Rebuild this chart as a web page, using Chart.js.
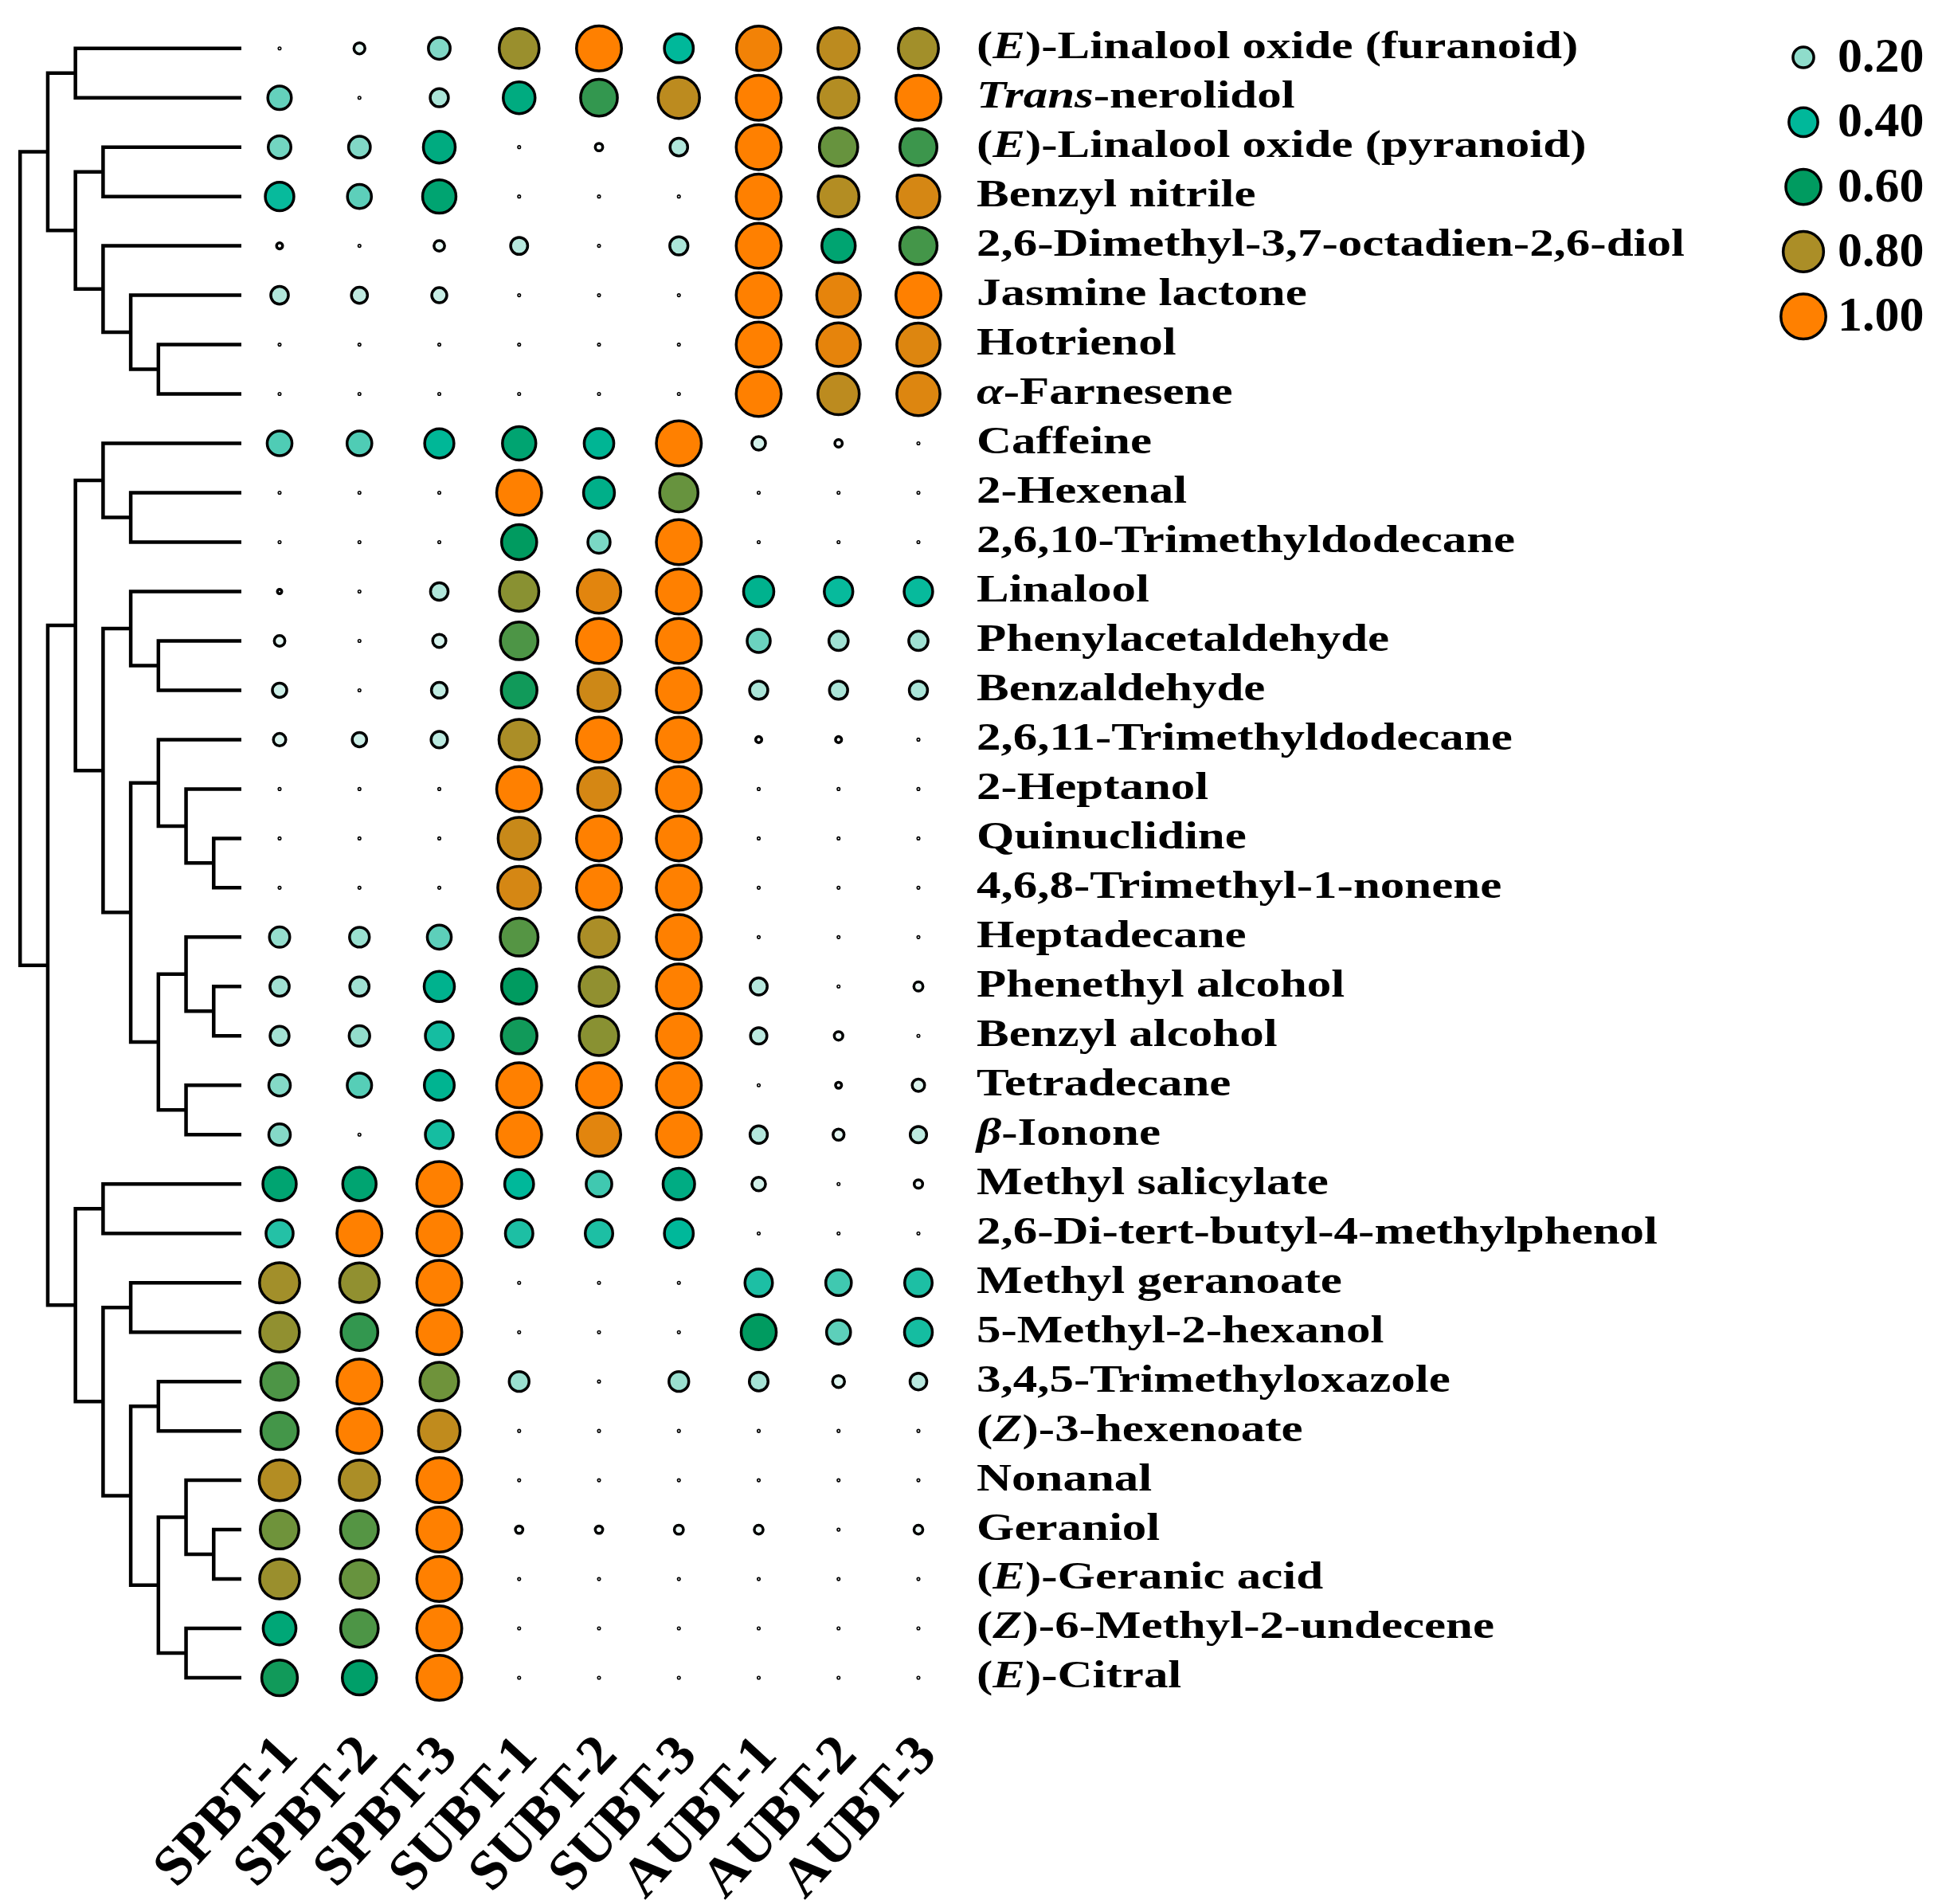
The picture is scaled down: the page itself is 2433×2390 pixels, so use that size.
<!DOCTYPE html>
<html>
<head>
<meta charset="utf-8">
<script src="https://cdn.jsdelivr.net/npm/chart.js@4.4.1/dist/chart.umd.min.js"></script>
<style>
    html, body { margin: 0; padding: 0; background: #ffffff; }
    canvas { display: block; }
</style>
</head>
<body>
<canvas id="bubbles" width="2433" height="2390"></canvas>
<script>
const samples = ["SPBT-1", "SPBT-2", "SPBT-3", "SUBT-1", "SUBT-2", "SUBT-3", "AUBT-1", "AUBT-2", "AUBT-3"];

// text between * is set in italic
const compounds = [
    "(*E*)-Linalool oxide (furanoid)",
    "*Trans*-nerolidol",
    "(*E*)-Linalool oxide (pyranoid)",
    "Benzyl nitrile",
    "2,6-Dimethyl-3,7-octadien-2,6-diol",
    "Jasmine lactone",
    "Hotrienol",
    "*α*-Farnesene",
    "Caffeine",
    "2-Hexenal",
    "2,6,10-Trimethyldodecane",
    "Linalool",
    "Phenylacetaldehyde",
    "Benzaldehyde",
    "2,6,11-Trimethyldodecane",
    "2-Heptanol",
    "Quinuclidine",
    "4,6,8-Trimethyl-1-nonene",
    "Heptadecane",
    "Phenethyl alcohol",
    "Benzyl alcohol",
    "Tetradecane",
    "*β*-Ionone",
    "Methyl salicylate",
    "2,6-Di-tert-butyl-4-methylphenol",
    "Methyl geranoate",
    "5-Methyl-2-hexanol",
    "3,4,5-Trimethyloxazole",
    "(*Z*)-3-hexenoate",
    "Nonanal",
    "Geraniol",
    "(*E*)-Geranic acid",
    "(*Z*)-6-Methyl-2-undecene",
    "(*E*)-Citral",
];

// relative content, one array per sample, same order as compounds
const spbt1 = [0, 0.26, 0.24, 0.39, 0.012, 0.14, 0, 0, 0.29, 0, 0, 0.005, 0.046, 0.09, 0.065, 0, 0, 0, 0.19, 0.17, 0.165, 0.215, 0.215, 0.54, 0.35, 0.79, 0.77, 0.69, 0.68, 0.82, 0.73, 0.78, 0.52, 0.62];
const spbt2 = [0.05, 0, 0.22, 0.27, 0, 0.115, 0, 0, 0.29, 0, 0, 0, 0, 0, 0.09, 0, 0, 0, 0.18, 0.17, 0.195, 0.28, 0, 0.54, 1.0, 0.77, 0.66, 1.0, 1.0, 0.8, 0.7, 0.72, 0.69, 0.57];
const spbt3 = [0.22, 0.15, 0.49, 0.54, 0.046, 0.1, 0, 0, 0.41, 0, 0, 0.14, 0.075, 0.11, 0.12, 0, 0, 0, 0.27, 0.44, 0.37, 0.43, 0.37, 1.0, 1.0, 1.0, 1.0, 0.73, 0.85, 1.0, 1.0, 1.0, 1.0, 1.0];
const subt1 = [0.78, 0.49, 0, 0, 0.13, 0, 0, 0, 0.54, 1.0, 0.6, 0.76, 0.69, 0.62, 0.8, 1.0, 0.87, 0.9, 0.7, 0.6, 0.62, 1.0, 1.0, 0.4, 0.36, 0, 0, 0.18, 0, 0, 0.02, 0, 0, 0];
const subt2 = [1.0, 0.66, 0.02, 0, 0, 0, 0, 0, 0.42, 0.46, 0.23, 0.93, 1.0, 0.88, 1.0, 0.9, 1.0, 1.0, 0.8, 0.77, 0.76, 1.0, 0.93, 0.31, 0.36, 0, 0, 0, 0, 0, 0.02, 0, 0, 0];
const subt3 = [0.4, 0.84, 0.14, 0, 0.15, 0, 0, 0, 1.0, 0.72, 1.0, 1.0, 1.0, 1.0, 1.0, 1.0, 1.0, 1.0, 1.0, 1.0, 1.0, 1.0, 1.0, 0.48, 0.4, 0, 0, 0.18, 0, 0, 0.032, 0, 0, 0];
const aubt1 = [0.97, 1.0, 1.0, 1.0, 1.0, 1.0, 1.0, 1.0, 0.08, 0, 0, 0.44, 0.25, 0.15, 0.012, 0, 0, 0, 0, 0.13, 0.12, 0, 0.135, 0.08, 0, 0.36, 0.6, 0.16, 0, 0, 0.03, 0, 0, 0];
const aubt2 = [0.84, 0.82, 0.72, 0.82, 0.54, 0.94, 0.94, 0.84, 0.02, 0, 0, 0.39, 0.17, 0.15, 0.012, 0, 0, 0, 0, 0, 0.028, 0.012, 0.05, 0, 0, 0.31, 0.27, 0.06, 0, 0, 0, 0, 0, 0];
const aubt3 = [0.79, 1.0, 0.67, 0.9, 0.68, 1.0, 0.92, 0.92, 0, 0, 0, 0.39, 0.17, 0.15, 0, 0, 0, 0, 0, 0.032, 0, 0.065, 0.12, 0.027, 0, 0.36, 0.37, 0.125, 0, 0, 0.03, 0, 0, 0];
const sampleValues = [spbt1, spbt2, spbt3, subt1, subt2, subt3, aubt1, aubt2, aubt3];

// row clustering, nested pairs of row indices
const rowTree = [
    [[0, 1], [[2, 3], [4, [5, [6, 7]]]]],
    [
        [[8, [9, 10]], [[11, [12, 13]], [[14, [15, [16, 17]]], [[18, [19, 20]], [21, 22]]]]],
        [[23, 24], [[25, 26], [[27, 28], [[29, [30, 31]], [32, 33]]]]],
    ],
];

const legendValues = [0.2, 0.4, 0.6, 0.8, 1.0];
const legendLabels = ["0.20", "0.40", "0.60", "0.80", "1.00"];

const colorStops = [
    [0, "#ffffff"],
    [0.2, "#8fdccb"],
    [0.4, "#00b89a"],
    [0.6, "#009b60"],
    [0.8, "#ab8e27"],
    [1, "#ff8000"],
];

// layout (pixels)
const W = 2433, H = 2390;
const xAxisHeight = 238;
const colPx0 = 351, colStep = 100.25;
const rowPx0 = 60.7, rowStep = 61.98;
const leafPx = 303, levelPx = 34.72, leafLevel = 8;
const serif = '"Liberation Serif", "Times New Roman", serif';

function hexToRgb(h) {
    return [1, 3, 5].map(i => parseInt(h.substr(i, 2), 16));
}

function colorFor(v) {
    for (let i = 1; i < colorStops.length; i++) {
        if (v <= colorStops[i][0]) {
            const [v0, c0] = colorStops[i - 1];
            const [v1, c1] = colorStops[i];
            const t = (v - v0) / (v1 - v0);
            const a = hexToRgb(c0), b = hexToRgb(c1);
            const c = a.map((x, k) => Math.round(x + (b[k] - x) * t));
            return `rgb(${c[0]}, ${c[1]}, ${c[2]})`;
        }
    }
    return colorStops[colorStops.length - 1][1];
}

function radiusFor(v) {
    return 0.8 + 27.45 * Math.sqrt(v);
}

// dots
let dots = [];
sampleValues.forEach((vals, i) => {
    vals.forEach((v, j) => dots.push({ x: i, y: j, v: v }));
});

// dendrogram lines, in x-scale units
const leafX = (leafPx - colPx0) / colStep;
const levelStep = levelPx / colStep;
let dendro = [];
function walk(node, depth) {
    if (typeof node === "number") {
        return { x: leafX, y: node };
    }
    const a = walk(node[0], depth + 1);
    const b = walk(node[1], depth + 1);
    const x = leafX - (leafLevel - depth) * levelStep;
    dendro.push(a, { x: x, y: a.y }, { x: x, y: b.y }, b, { x: null, y: null });
    return { x: x, y: (a.y + b.y) / 2 };
}
walk(rowTree, 0);

const rowLabels = {
    id: "rowLabels",
    afterDraw(chart) {
        const ctx = chart.ctx;
        const xs = chart.scales.x, ys = chart.scales.y;
        const x0 = xs.getPixelForValue(samples.length - 1) + 73;
        ctx.save();
        ctx.fillStyle = "#000";
        ctx.textBaseline = "middle";
        ctx.textAlign = "left";
        compounds.forEach((name, j) => {
            const y = ys.getPixelForValue(j);
            ctx.save();
            ctx.translate(x0, y);
            ctx.scale(1.27, 1);
            let x = 0;
            name.split("*").forEach((part, k) => {
                ctx.font = (k % 2 ? "italic " : "") + "bold 48px " + serif;
                ctx.fillText(part, x, 0);
                x += ctx.measureText(part).width;
            });
            ctx.restore();
        });
        ctx.restore();
    },
};

const sizeLegend = {
    id: "sizeLegend",
    afterDraw(chart) {
        const ctx = chart.ctx;
        ctx.save();
        legendValues.forEach((v, i) => {
            const y = 72 + i * 81.3;
            ctx.beginPath();
            ctx.arc(2264, y, radiusFor(v), 0, Math.PI * 2);
            ctx.fillStyle = colorFor(v);
            ctx.fill();
            ctx.lineWidth = 3.5;
            ctx.strokeStyle = "#000";
            ctx.stroke();
            ctx.fillStyle = "#000";
            ctx.font = "bold 62px " + serif;
            ctx.textBaseline = "middle";
            ctx.fillText(legendLabels[i], 2307, y + 2);
        });
        ctx.restore();
    },
};

new Chart(document.getElementById("bubbles"), {
    type: "scatter",
    data: {
        datasets: [
            {
                label: "tree",
                data: dendro,
                showLine: true,
                spanGaps: false,
                borderColor: "#000",
                borderWidth: 4.5,
                borderJoinStyle: "miter",
                pointRadius: 0,
                pointHitRadius: 0,
            },
            {
                label: "content",
                data: dots,
                pointRadius: (c) => radiusFor(c.raw.v),
                pointBackgroundColor: (c) => colorFor(c.raw.v),
                pointBorderColor: "#000",
                pointBorderWidth: 3.5,
            },
        ],
    },
    options: {
        responsive: false,
        animation: false,
        devicePixelRatio: 1,
        events: [],
        layout: { padding: 0, autoPadding: false },
        plugins: {
            legend: { display: false },
            tooltip: { enabled: false },
        },
        scales: {
            x: {
                type: "linear",
                position: "bottom",
                min: -colPx0 / colStep,
                max: (W - colPx0) / colStep,
                grid: { display: false, drawTicks: false },
                border: { display: false },
                afterBuildTicks: (s) => {
                    s.ticks = samples.map((_, i) => ({ value: i }));
                },
                afterFit: (s) => {
                    s.height = xAxisHeight;
                },
                ticks: {
                    autoSkip: false,
                    minRotation: 47,
                    maxRotation: 47,
                    padding: 12,
                    labelOffset: 12,
                    color: "#000",
                    font: { family: serif, weight: "bold", size: 70 },
                    callback: (v) => samples[v],
                },
            },
            y: {
                type: "linear",
                display: false,
                reverse: true,
                min: -rowPx0 / rowStep,
                max: (H - xAxisHeight - rowPx0) / rowStep,
            },
        },
    },
    plugins: [rowLabels, sizeLegend],
});
</script>
</body>
</html>
